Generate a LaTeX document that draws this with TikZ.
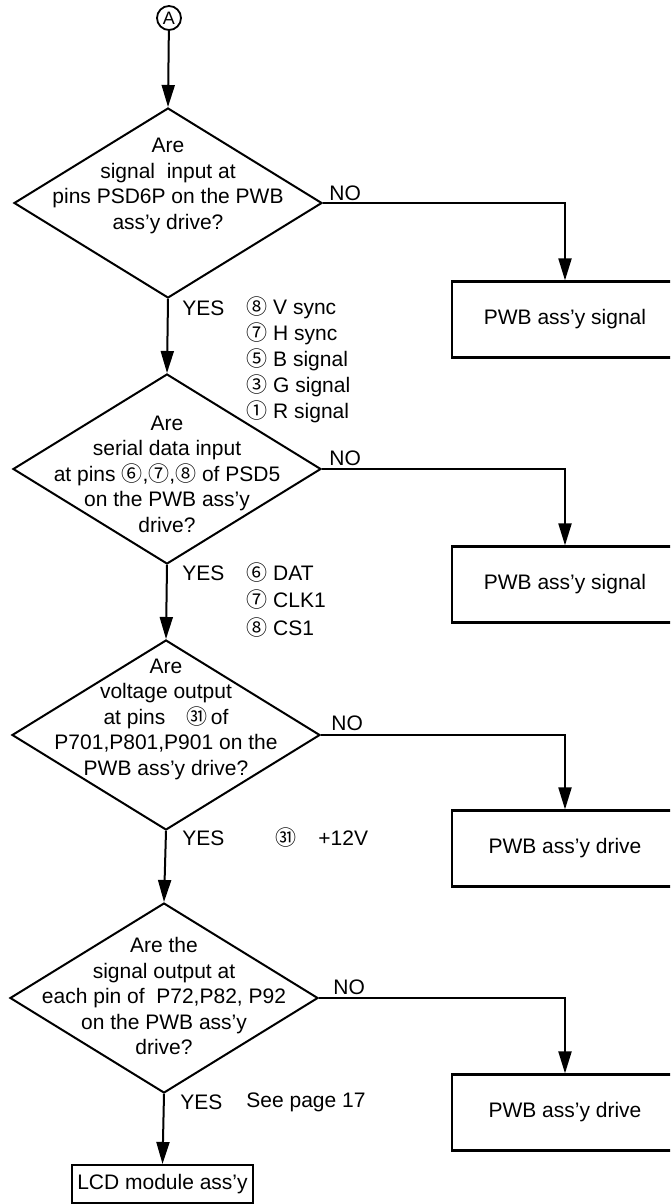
\documentclass[tikz,border=0pt]{standalone}
\usepackage{fontspec}
\setmainfont{Liberation Sans}
\newfontfamily\cjk{Noto Sans CJK JP}
\usetikzlibrary{shapes.geometric}
\usetikzlibrary{arrows.meta}
\newcommand{\pinno}[1]{{\cjk #1}}
\tikzset{
   decision/.style={draw, diamond, line width=1pt,
      minimum width=154pt, minimum height=95pt, inner sep=0pt},
   question/.style={align=center, inner sep=0pt,
      font=\fontsize{10.5}{12.75}\selectfont},
   outcome/.style={draw, rectangle, line width=1.1pt,
      minimum width=113pt, minimum height=38pt, inner sep=0pt,
      font=\fontsize{10.5}{12.75}\selectfont},
   answer/.style={anchor=west, inner sep=0pt,
      font=\fontsize{10.5}{12.9}\selectfont},
   flow/.style={line width=1pt, -{Triangle[length=11pt, width=6.5pt]}},
    }

\begin{document}
\begin{tikzpicture}[x=0.5pt, y=-0.5pt]
            \clip (0,0) rectangle (670,1204);
            \node[draw, circle, line width=0.9pt, minimum size=12pt, inner sep=0pt,
               font=\fontsize{9}{9}\selectfont] (a) at (169,18) {A};
            % questions
            \node[decision] (q1) at (168,203) {};
            \node[question] at (168,186) {Are\\signal\ \ input at\\pins PSD6P on the PWB\\ass'y drive?};
            \node[decision] (q2) at (167,469) {};
            \node[question] at (167,474) {Are\\serial data input\\at pins \pinno{⑥},\pinno{⑦},\pinno{⑧} of PSD5\\on the PWB ass'y\\drive?};
            \node[decision] (q3) at (166,735) {};
            \node[question] at (166,719) {Are\\voltage output\\at pins\hspace{1em}\pinno{㉛}\,of\\P701,P801,P901 on the\\PWB ass'y drive?};
            \node[decision] (q4) at (164,998) {};
            \node[question] at (164,996) {Are the\\signal output at\\each pin of\ \ P72,P82, P92\\on the PWB ass'y\\drive?};
            % outcomes
            \node[outcome] (n1) at (565,319.5) {PWB ass'y signal};
            \node[outcome] (n2) at (565,584.5) {PWB ass'y signal};
            \node[outcome] (n3) at (565,848.5) {PWB ass'y drive};
            \node[outcome] (n4) at (565,1112.5) {PWB ass'y drive};
            \node[outcome, line width=1pt, minimum width=90.5pt, minimum height=19pt] (lcd) at (162.5,1184) {LCD module ass'y};
            % connectors
            \draw[flow] (a) -- (q1.north);
            \draw[flow] (q1.south) -- (q2.north);
            \draw[flow] (q2.south) -- (q3.north);
            \draw[flow] (q3.south) -- (q4.north);
            \draw[flow] (q4.south) -- (lcd.north);
            \draw[flow] (q1.east) -| (n1.north);
            \draw[flow] (q2.east) -| (n2.north);
            \draw[flow] (q3.east) -| (n3.north);
            \draw[flow] (q4.east) -| (n4.north);
            % labels
            \node[answer] at (329,193) {NO};
            \node[answer] at (329,458) {NO};
            \node[answer] at (331,723) {NO};
            \node[answer] at (333,987) {NO};
            \node[answer] at (182,308) {YES};
            \node[answer] at (182,573) {YES};
            \node[answer] at (182,838) {YES};
            \node[answer] at (180,1102) {YES};
            \node[answer, anchor=base west, align=left] at (246,418) {\pinno{⑧} V sync\\\pinno{⑦} H sync\\\pinno{⑤} B signal\\\pinno{③} G signal\\\pinno{①} R signal};
            \node[answer, anchor=base west, align=left,
               font=\fontsize{10.5}{13.75}\selectfont] at (246,635) {\pinno{⑥} DAT\\\pinno{⑦} CLK1\\\pinno{⑧} CS1};
            \node[answer] at (275,838) {\pinno{㉛}\hspace{11pt}+12V};
            \node[answer] at (246,1102) {See page 17};
        \end{tikzpicture}
\end{document}
